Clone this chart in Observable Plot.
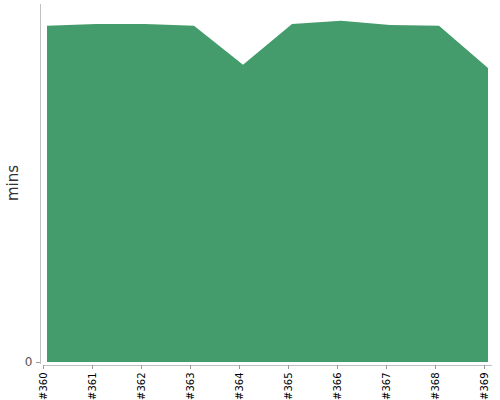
<!DOCTYPE html>
<html><head><meta charset="utf-8">
<script src="https://cdn.jsdelivr.net/npm/d3@7"></script>
<script src="https://cdn.jsdelivr.net/npm/@observablehq/plot@0.6"></script>
<style>html,body{margin:0;padding:0;overflow:hidden;background:#fff;font-family:"DejaVu Sans",sans-serif}svg{display:block}</style>
</head><body><div id="chart"></div>
<script>
const builds = ["#360","#361","#362","#363","#364","#365","#366","#367","#368","#369"];
const mins = [93.9, 94.4, 94.4, 93.9, 83.0, 94.4, 95.3, 94.1, 93.9, 82.1];
const yTicks = [0];
const yLabel = "mins";
const data = builds.map((b, i) => ({build: b, mins: mins[i]}));

const chart = Plot.plot({
  width: 500, height: 400,
  marginLeft: 40, marginRight: 9, marginTop: 4, marginBottom: 35,
  insetLeft: 3, insetBottom: 3,
  style: {fontFamily: "DejaVu Sans, sans-serif", background: "#fff"},
  x: {type: "point", domain: builds, padding: 0},
  y: {domain: [0, 100]},
  marks: [
    Plot.areaY(data, {x: "build", y: "mins", fill: "#449c6c"}),
    Plot.frame({anchor: "left", stroke: "#c0c0c0", insetBottom: 2}),
    Plot.frame({anchor: "bottom", stroke: "#c0c0c0", insetLeft: 3}),
    Plot.axisY({ticks: yTicks, tickSize: 4, tickPadding: 4, stroke: "#999", color: "#555", fontSize: 12, label: null}),
    Plot.axisX({tickSize: 4, tickPadding: 3, tickRotate: -90, stroke: "#999", color: "#000", fontSize: 10, label: null, dx: -4}),
    Plot.text([yLabel], {frameAnchor: "left", textAnchor: "middle", dx: -27, dy: -2, rotate: -90, fontSize: 15, fill: "#333"})
  ]
});
document.getElementById("chart").append(chart);
</script></body></html>
